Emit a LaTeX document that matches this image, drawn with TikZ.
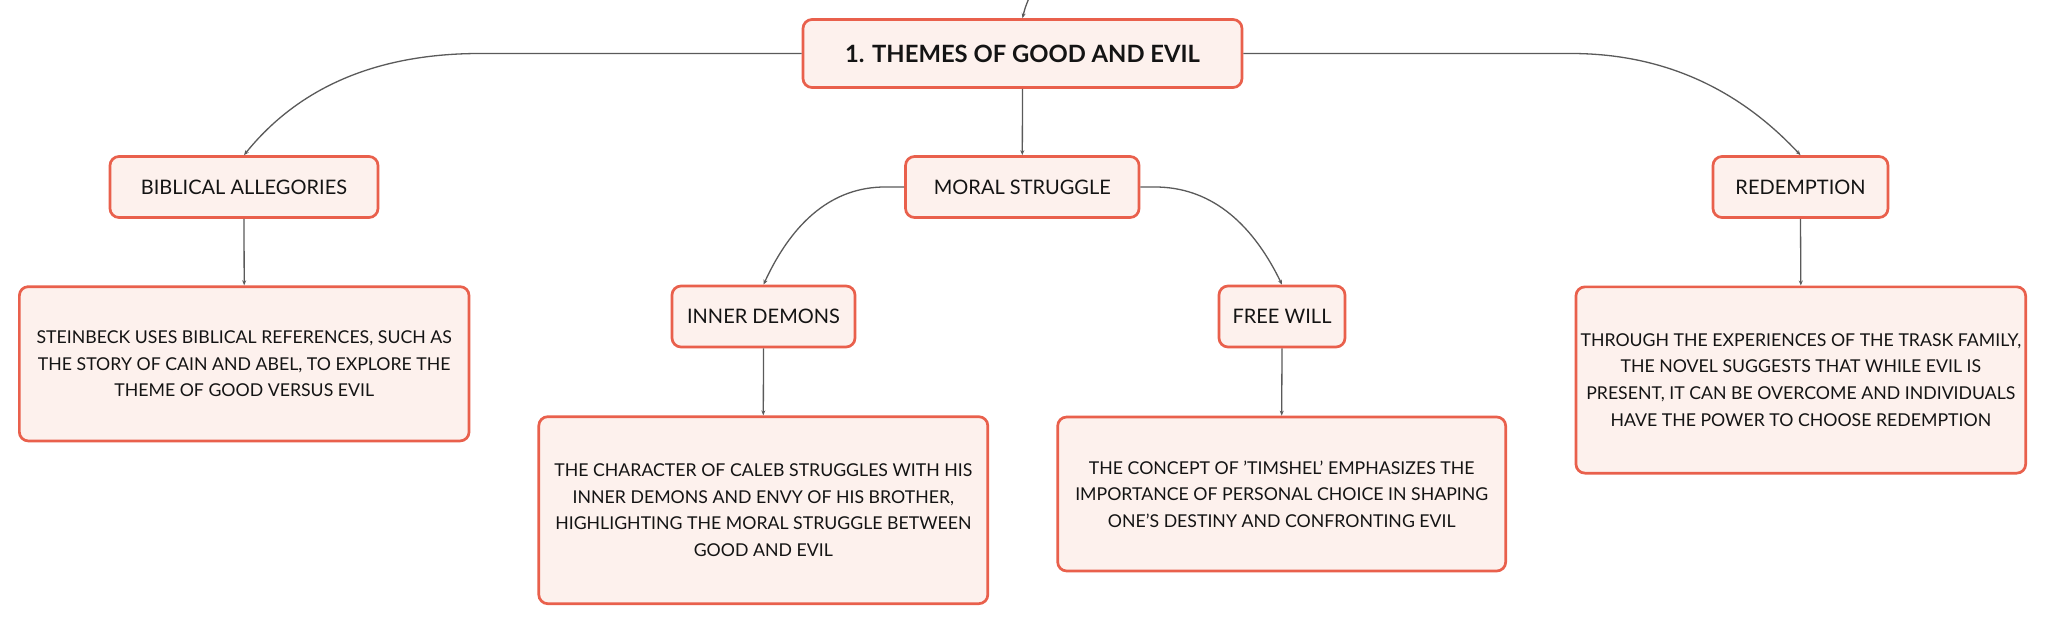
\documentclass[tikz,border=0pt]{standalone}
\usepackage{fontspec}
\setmainfont{Lato}
\usetikzlibrary{arrows.meta}
\definecolor{bord}{RGB}{233,96,76}
\definecolor{fillc}{RGB}{253,241,237}
\definecolor{linec}{RGB}{90,90,90}
\begin{document}
\begin{tikzpicture}[x=1pt,y=-1pt,
 box/.style={draw=bord, fill=fillc, line width=2.7pt, rounded corners=9pt, inner sep=0pt, align=center, text=black!92},
 lab/.style={box, font=\fontsize{20}{24}\selectfont, minimum height=61pt},
 rootbox/.style={box, font=\fontsize{23.8}{28}\selectfont\bfseries, minimum height=68pt},
 desc/.style={box, font=\fontsize{17.7}{26.7}\selectfont},
 conn/.style={draw=linec, line width=1.3pt, -{Stealth[length=5pt,width=4pt]}}]
\useasboundingbox (0,0) rectangle (2046,624);
\clip (0,0) rectangle (2046,624);
\fill[white] (0,0) rectangle (2046,624);

% nodes
\node[rootbox, minimum width=439pt] (root) at (1022.5,53.5) {1. THEMES OF GOOD AND EVIL};
\node[lab, minimum width=268pt] (bib) at (244,187) {BIBLICAL ALLEGORIES};
\node[lab, minimum width=233.5pt] (moral) at (1022.3,187) {MORAL STRUGGLE};
\node[lab, minimum width=175pt] (red) at (1800.5,187) {REDEMPTION};
\node[lab, minimum width=183pt] (inner) at (763.5,316.5) {INNER DEMONS};
\node[lab, minimum width=126pt] (free) at (1282,316.5) {FREE WILL};

\node[desc, minimum width=449.7pt, minimum height=154.3pt] (bibt) at (244.2,363.8)
 {STEINBECK USES BIBLICAL REFERENCES, SUCH AS\\THE STORY OF CAIN AND ABEL, TO EXPLORE THE\\THEME OF GOOD VERSUS EVIL};
\node[desc, minimum width=449pt, minimum height=187pt] (caleb) at (763.3,510.2)
 {THE CHARACTER OF CALEB STRUGGLES WITH HIS\\INNER DEMONS AND ENVY OF HIS BROTHER,\\HIGHLIGHTING THE MORAL STRUGGLE BETWEEN\\GOOD AND EVIL};
\node[desc, minimum width=448pt, minimum height=154pt] (tim) at (1281.7,494)
 {THE CONCEPT OF 'TIMSHEL' EMPHASIZES THE\\IMPORTANCE OF PERSONAL CHOICE IN SHAPING\\ONE'S DESTINY AND CONFRONTING EVIL};
\node[desc, minimum width=449.7pt, minimum height=186.3pt] (redt) at (1800.8,380)
 {THROUGH THE EXPERIENCES OF THE TRASK FAMILY,\\THE NOVEL SUGGESTS THAT WHILE EVIL IS\\PRESENT, IT CAN BE OVERCOME AND INDIVIDUALS\\HAVE THE POWER TO CHOOSE REDEMPTION};

% bend coordinates
\coordinate (topin) at (1029,-2);
\coordinate (lk) at (480,53.5);
\coordinate (rk) at (1571,53.5);
\coordinate (mlk) at (885,187);
\coordinate (mrk) at (1155,187);

% connectors
\draw[conn] (topin) .. controls (1025,8) .. (root.north);
\draw[conn] (root.south) -- (moral.north);
\draw[conn] (root.west) -- (lk) .. controls (376.7,53.5) and (298.7,87.3) .. (bib.north);
\draw[conn] (root.east) -- (rk) .. controls (1661,53.5) and (1737,87) .. (red.north);
\draw[conn] (moral.west) -- (mlk) .. controls (833.7,187) and (793.2,220) .. (inner.north);
\draw[conn] (moral.east) -- (mrk) .. controls (1208.3,187) and (1250.7,220) .. (free.north);
\draw[conn] (bib.south) -- (bibt.north);
\draw[conn] (inner.south) -- (caleb.north);
\draw[conn] (free.south) -- (tim.north);
\draw[conn] (red.south) -- (redt.north);
\end{tikzpicture}
\end{document}
